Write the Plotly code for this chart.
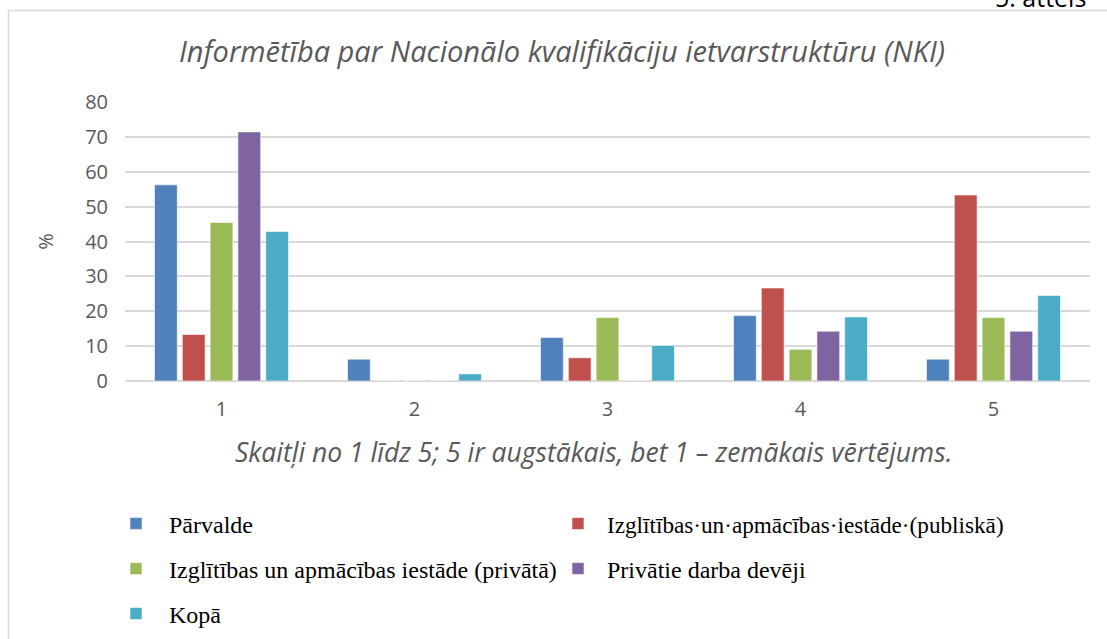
import plotly.graph_objects as go

categories = ["1", "2", "3", "4", "5"]
series_names = [
    "Pārvalde",
    "Izglītības·un·apmācības·iestāde·(publiskā)",
    "Izglītības un apmācības iestāde (privātā)",
    "Privātie darba devēji",
    "Kopā",
]
parvalde = [56.25, 6.25, 12.5, 18.75, 6.25]
publiska = [13.33, 0, 6.67, 26.67, 53.33]
privata = [45.45, 0, 18.18, 9.09, 18.18]
darba_deveji = [71.43, 0, 0, 14.29, 14.29]
kopa = [42.86, 2.04, 10.2, 18.37, 24.49]
y_ticks = [0, 10, 20, 30, 40, 50, 60, 70, 80]

colors = ["#4F81BD", "#C0504D", "#9BBB59", "#8064A2", "#4BACC6"]
values = [parvalde, publiska, privata, darba_deveji, kopa]

W, H = 1107, 639
L, R, T, B = 125, 1090, 102, 381  # plot area in pixels


def px_x(p):
    return (p - L) / (R - L)


def px_y(p):
    return (B - p) / (B - T)


# legend placement: (left px, centre px, item width, font size)
legend_pos = [
    (103, 524, 56, 24),
    (549, 524, 48, 23.2),
    (103, 569, 56, 24),
    (549, 569, 48, 24),
    (103, 614, 56, 24),
]

fig = go.Figure()
legend_ids = ["legend", "legend2", "legend3", "legend4", "legend5"]
for i, (name, vals) in enumerate(zip(series_names, values)):
    fig.add_trace(go.Bar(
        x=categories, y=vals, name=name,
        marker=dict(color=colors[i], line=dict(color="rgba(255,255,255,0.6)", width=1)),
        legend=legend_ids[i],
    ))

serif = "Liberation Serif, Times New Roman, serif"
sans = "Open Sans, Noto Sans, sans-serif"
layout_legends = {}
for i, lid in enumerate(legend_ids):
    x, y, iw, fs = legend_pos[i]
    layout_legends[lid] = dict(
        x=px_x(x), y=px_y(y), xanchor="left", yanchor="middle",
        xref="paper", yref="paper",
        bgcolor="rgba(0,0,0,0)", borderwidth=0,
        itemwidth=iw,
        font=dict(family=serif, size=fs, color="#000000"),
    )

fig.update_layout(
    width=W, height=H,
    margin=dict(l=L, r=W - R, t=T, b=H - B, autoexpand=False),
    paper_bgcolor="white", plot_bgcolor="white",
    barmode="group", bargap=0.28, bargroupgap=0.18,
    showlegend=True,
    title=dict(
        text="Informētība par Nacionālo kvalifikāciju ietvarstruktūru (NKI)",
        x=px_x(562), xref="paper", xanchor="center",
        y=1 - 52 / H, yref="container", yanchor="middle",
        font=dict(family=sans, size=29, color="#595959", style="italic"),
    ),
    xaxis=dict(
        showgrid=False, showline=False, zeroline=False, ticks="",
        tickfont=dict(family=sans, size=20, color="#595959"),
        ticklabelstandoff=14, automargin=False,
    ),
    yaxis=dict(
        range=[0, 80], tickvals=y_ticks, showgrid=True,
        gridcolor="#d9d9d9", gridwidth=1.5,
        zeroline=True, zerolinecolor="#d9d9d9", zerolinewidth=1.5,
        showline=False, ticks="", automargin=False,
        tickfont=dict(family=sans, size=20, color="#595959"),
        ticklabelstandoff=16,
        title=dict(text="%", font=dict(family=sans, size=20, color="#595959"), standoff=26),
    ),
    **layout_legends,
)

fig.add_annotation(
    text="Skaitļi no 1 līdz 5; 5 ir augstākais, bet 1 – zemākais vērtējums.",
    x=px_x(593), y=px_y(452), xref="paper", yref="paper",
    xanchor="center", yanchor="middle", showarrow=False,
    font=dict(family=sans, size=26.5, color="#595959", style="italic"),
)
fig.add_annotation(
    text="5. attēls",
    x=px_x(1040), y=px_y(16), xref="paper", yref="paper",
    xanchor="center", yanchor="bottom", showarrow=False,
    font=dict(family=sans, size=25, color="#000000"),
)
fig.add_shape(
    type="rect", xref="paper", yref="paper",
    x0=px_x(8.5), x1=px_x(1200), y0=px_y(700), y1=px_y(10.5),
    line=dict(color="#d9d9d9", width=1.5), fillcolor="rgba(0,0,0,0)",
    layer="below",
)

fig.write_html(
    "out.html",
    config={"displayModeBar": False},
    post_script="document.body.style.margin='0px';",
)
